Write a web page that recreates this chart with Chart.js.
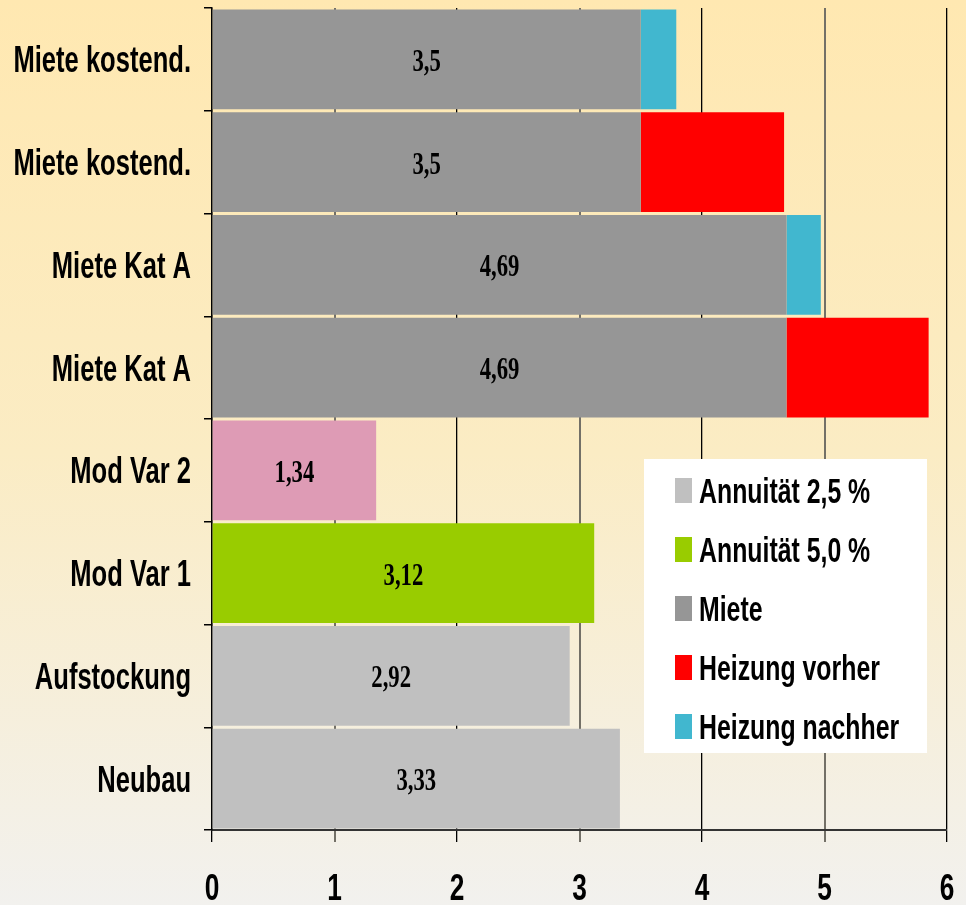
<!DOCTYPE html>
<html>
<head>
<meta charset="utf-8">
<script src="https://cdn.jsdelivr.net/npm/chart.js@4.4.1/dist/chart.umd.min.js"></script>
<style>
  html, body { margin: 0; padding: 0; background: #f3f2ef; }
  #wrap { width: 966px; height: 905px; }
</style>
</head>
<body>
<div id="wrap"><canvas id="costChart" width="966" height="905"></canvas></div>
<script>
const categories = [
    "Miete kostend.",
    "Miete kostend.",
    "Miete Kat A",
    "Miete Kat A",
    "Mod Var 2",
    "Mod Var 1",
    "Aufstockung",
    "Neubau"
];

const annuitaet25 = [null, null, null, null, 1.34, null, 2.92, 3.33];
const annuitaet50 = [null, null, null, null, null, 3.12, null, null];
const miete = [3.5, 3.5, 4.69, 4.69, null, null, null, null];
const heizungVorher = [null, 1.17, null, 1.16, null, null, null, null];
const heizungNachher = [0.29, null, 0.28, null, null, null, null, null];

const xTicks = [0, 1, 2, 3, 4, 5, 6];

const sansFont = '"Liberation Sans", Arial, sans-serif';
const serifFont = '"Liberation Serif", "Times New Roman", serif';
// the original text is squeezed sideways, so every label is drawn narrowed
const squeeze = 0.71;

function narrowText(ctx, text, x, y, align) {
    ctx.save();
    ctx.translate(x, y);
    ctx.scale(squeeze, 1);
    ctx.textAlign = align;
    ctx.fillText(text, 0, 0);
    ctx.restore();
}

const bgPlugin = {
    id: "bgGradient",
    beforeDraw(chart) {
        const ctx = chart.ctx;
        const g = ctx.createLinearGradient(0, 0, 0, chart.height);
        g.addColorStop(0, "#FFE8B1");
        g.addColorStop(0.5, "#FBECC4");
        g.addColorStop(1, "#F2F1EE");
        ctx.save();
        ctx.fillStyle = g;
        ctx.fillRect(0, 0, chart.width, chart.height);
        ctx.restore();
    }
};

const axisLabelPlugin = {
    id: "axisLabels",
    afterDraw(chart) {
        const ctx = chart.ctx;
        const xs = chart.scales.x;
        const ys = chart.scales.y;
        ctx.save();
        ctx.fillStyle = "#000";
        ctx.textBaseline = "alphabetic";
        ctx.font = "bold 36px " + sansFont;
        chart.data.labels.forEach((lab, i) => {
            const cy = ys.getPixelForValue(i);
            narrowText(ctx, lab, ys.right - 21, cy + 13, "right");
        });
        ctx.font = "bold 37px " + sansFont;
        xs.ticks.forEach(t => {
            narrowText(ctx, String(t.value), xs.getPixelForValue(t.value), 900, "center");
        });
        ctx.restore();
    }
};

const valueLabelPlugin = {
    id: "valueLabels",
    afterDatasetsDraw(chart) {
        const ctx = chart.ctx;
        ctx.save();
        ctx.font = "bold 32px " + serifFont;
        ctx.fillStyle = "#000";
        ctx.textBaseline = "alphabetic";
        [0, 1, 2].forEach(di => {
            const meta = chart.getDatasetMeta(di);
            meta.data.forEach((bar, i) => {
                const v = chart.data.datasets[di].data[i];
                if (v === null || v === undefined) return;
                const cx = (bar.x + bar.base) / 2;
                narrowText(ctx, String(v).replace(".", ","), cx, bar.y + 11.5, "center");
            });
        });
        ctx.restore();
    }
};

const boxLegendPlugin = {
    id: "boxLegend",
    afterDraw(chart) {
        const ctx = chart.ctx;
        const left = 644, top = 459, w = 283, h = 294;
        ctx.save();
        ctx.fillStyle = "#ffffff";
        ctx.fillRect(left, top, w, h);
        ctx.font = "bold 35px " + sansFont;
        ctx.textBaseline = "alphabetic";
        chart.data.datasets.forEach((ds, i) => {
            const sq = top + 19 + i * 59;
            ctx.fillStyle = ds.legendColor;
            ctx.fillRect(left + 31, sq, 17, 25);
            ctx.fillStyle = "#000";
            narrowText(ctx, ds.label, left + 55, sq + 25, "left");
        });
        ctx.restore();
    }
};

const annuitaet25Colors = categories.map((c, i) => i === 4 ? "#DE9BB5" : "#C0C0C0");

new Chart(document.getElementById("costChart"), {
    type: "bar",
    data: {
        labels: categories,
        datasets: [
            { label: "Annuität 2,5 %", data: annuitaet25, backgroundColor: annuitaet25Colors, legendColor: "#C0C0C0" },
            { label: "Annuität 5,0 %", data: annuitaet50, backgroundColor: "#99CC00", legendColor: "#99CC00" },
            { label: "Miete", data: miete, backgroundColor: "#969696", legendColor: "#969696" },
            { label: "Heizung vorher", data: heizungVorher, backgroundColor: "#FF0000", legendColor: "#FF0000" },
            { label: "Heizung nachher", data: heizungNachher, backgroundColor: "#41B7CF", legendColor: "#41B7CF" }
        ]
    },
    options: {
        indexAxis: "y",
        responsive: false,
        animation: false,
        layout: { padding: { top: 8, right: 19, left: 0, bottom: 0 } },
        datasets: {
            bar: { barPercentage: 0.97, categoryPercentage: 1.0, borderWidth: 0 }
        },
        plugins: {
            legend: { display: false },
            tooltip: { enabled: false }
        },
        scales: {
            x: {
                stacked: true,
                min: 0,
                max: 6,
                afterBuildTicks(scale) {
                    scale.ticks = xTicks.map(v => ({ value: v }));
                },
                afterFit(scale) {
                    scale.height = 75;
                    scale.paddingLeft = 0;
                    scale.paddingRight = 0;
                },
                grid: {
                    color: ctx => ctx.index % 2 === 1 ? "#737067" : "#000000",
                    lineWidth: ctx => ctx.index % 2 === 1 ? 2 : 1.3,
                    tickLength: 12
                },
                border: { color: "#333333", width: 2 },
                ticks: { display: false }
            },
            y: {
                stacked: true,
                afterFit(scale) {
                    scale.width = 212;
                    scale.paddingTop = 0;
                    scale.paddingBottom = 0;
                },
                grid: {
                    drawOnChartArea: false,
                    color: "#000",
                    tickLength: 8,
                    lineWidth: 1.5
                },
                border: { color: "#000", width: 1.5 },
                ticks: { display: false }
            }
        }
    },
    plugins: [bgPlugin, valueLabelPlugin, axisLabelPlugin, boxLegendPlugin]
});
</script>
</body>
</html>
